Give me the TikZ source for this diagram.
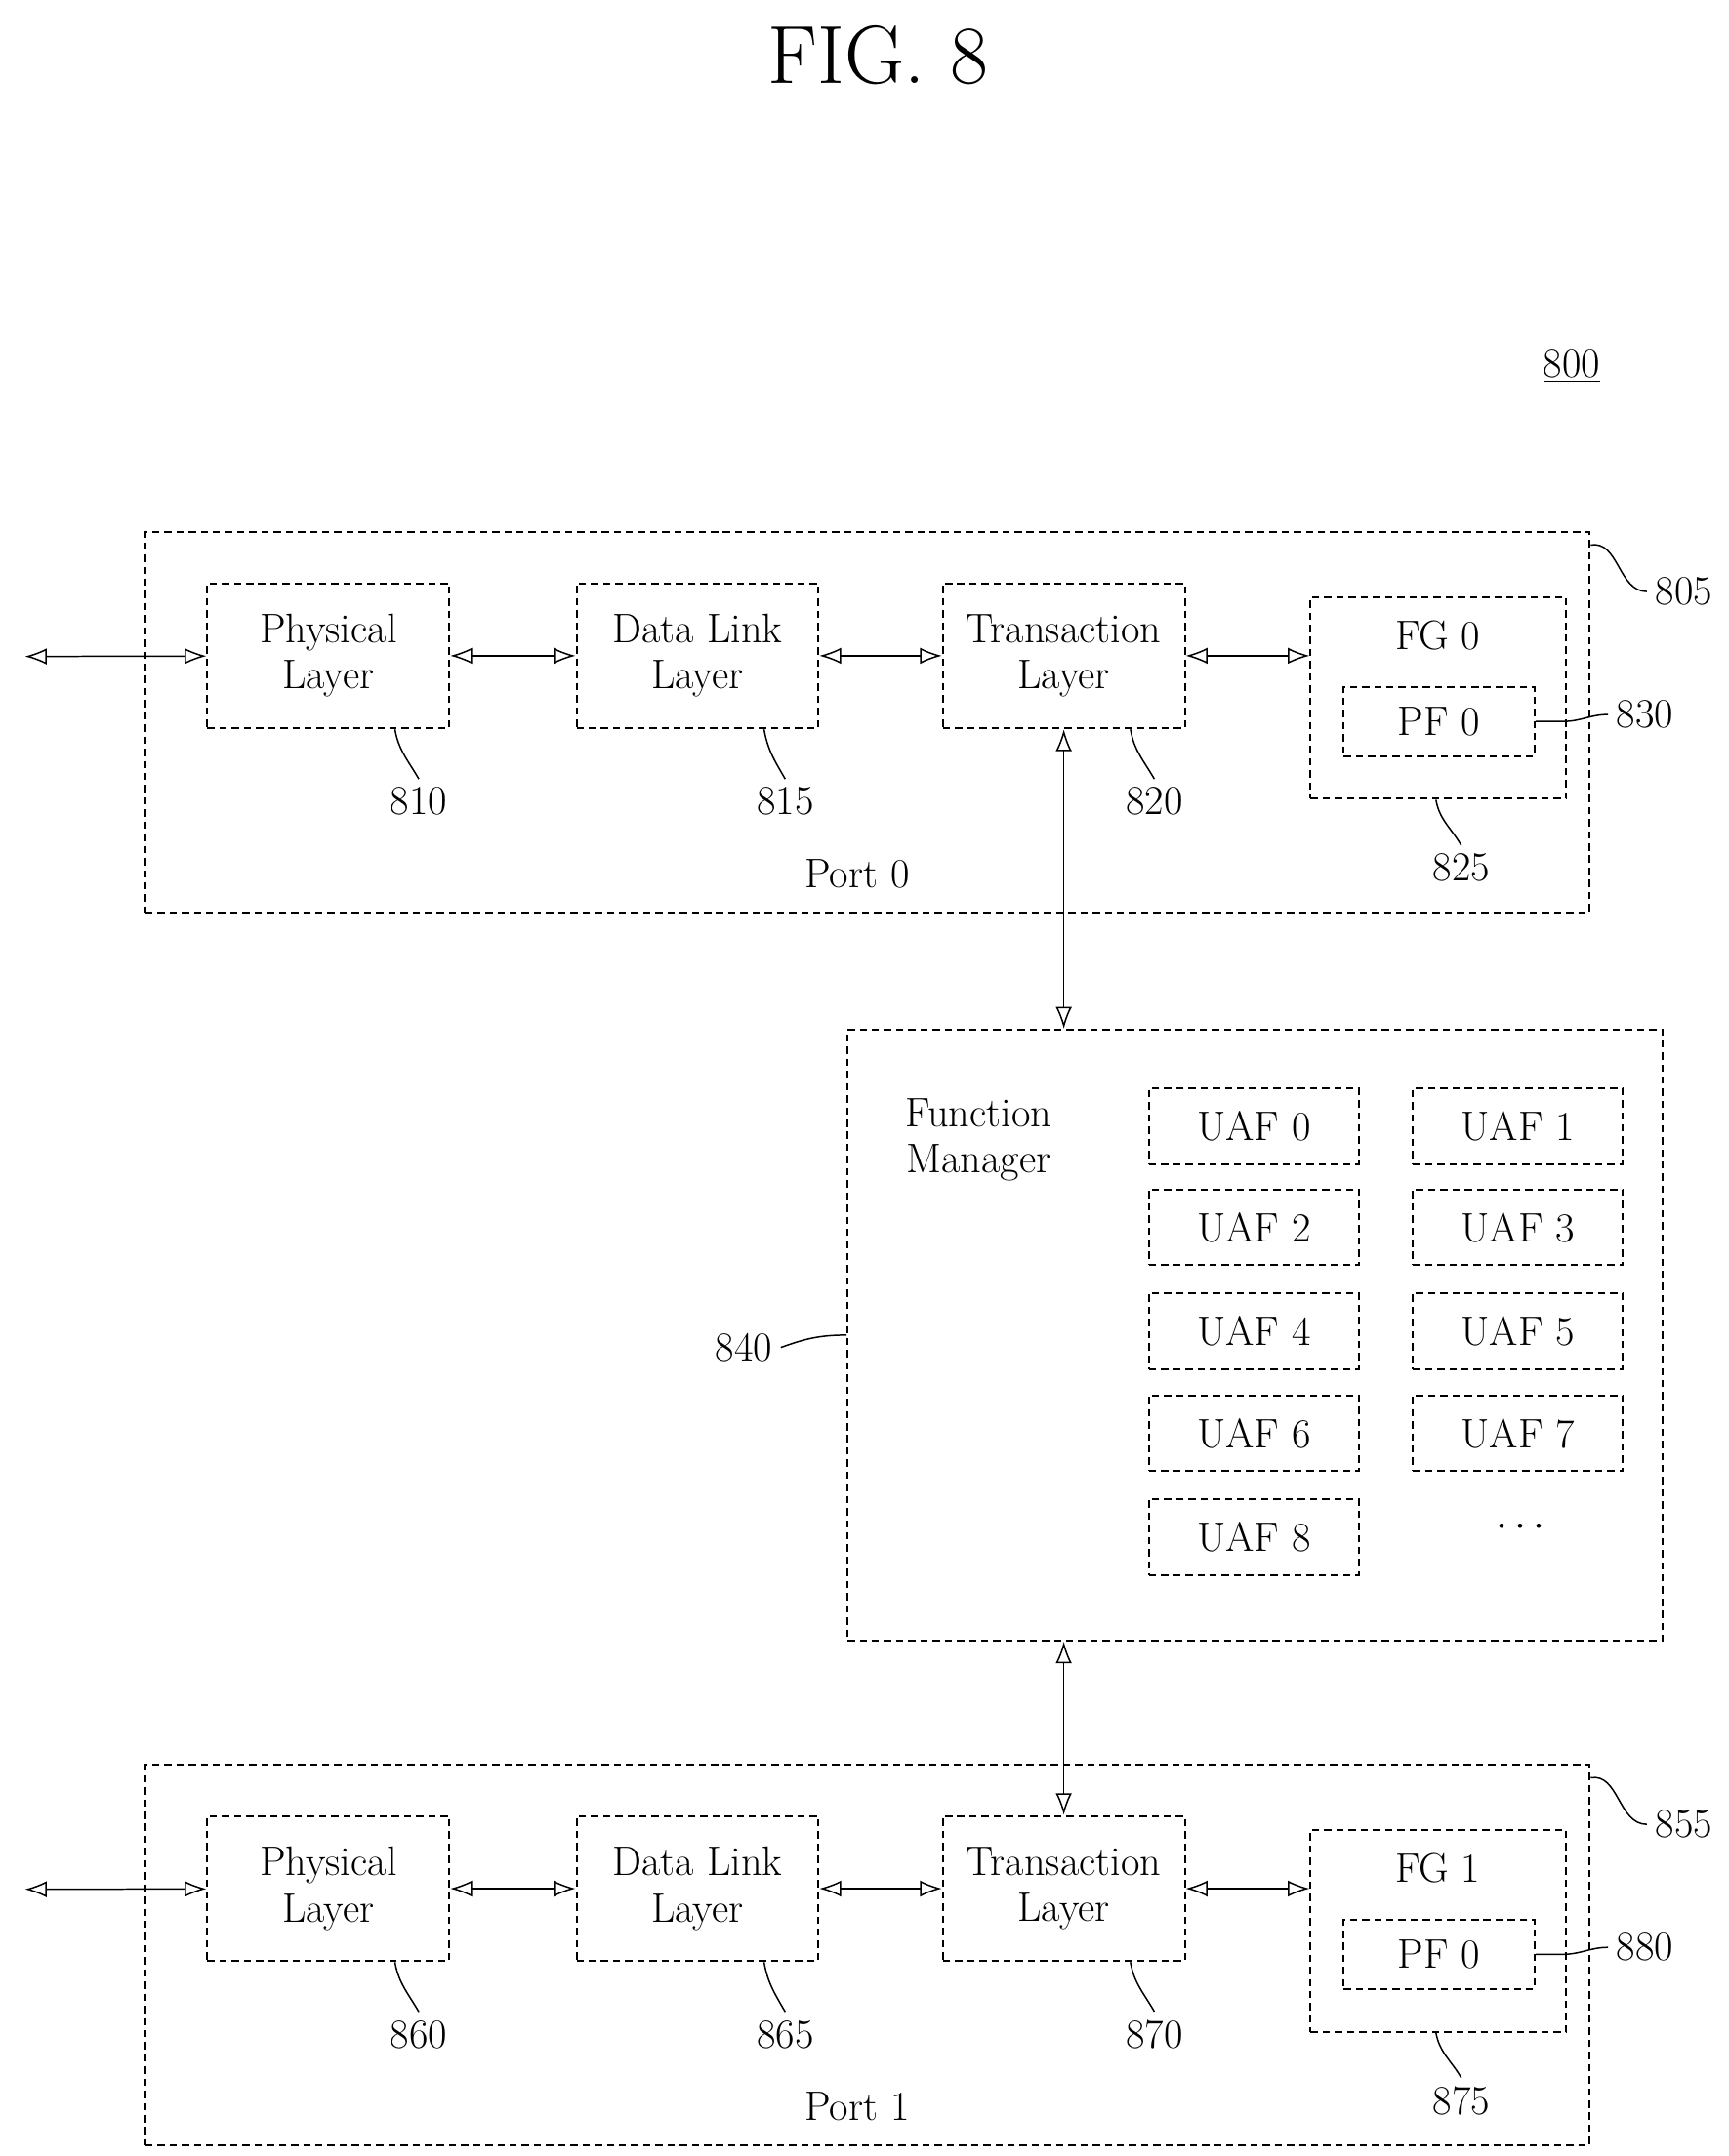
\documentclass[tikz,border=0pt]{standalone}
\usepackage{tikz}
\usetikzlibrary{positioning, arrows.meta}

\tikzset{
	blk/.style={draw, densely dashed, line width=0.8pt, minimum width=3.5cm, minimum height=2.1cm, align=center, font=\fontsize{17}{19}\selectfont},
	uaf/.style={draw, densely dashed, line width=0.8pt, minimum width=3.04cm, minimum height=1.1cm, font=\fontsize{17}{19}\selectfont},
	num/.style={font=\fontsize{17}{19}\selectfont},
	dbl/.style={{Latex[open,length=9pt]}-{Latex[open,length=9pt]}, line width=0.6pt},
	lead/.style={line width=0.6pt}
}

\begin{document}
\begin{tikzpicture}[x=0.02cm, y=-0.02cm]
		
		\useasboundingbox (0,0) rectangle (1250,1560);
		
		%Titolo
		\node (title) at (635,40) {\fontsize{34}{38}\selectfont FIG. 8};
		\node[num] (n800) at (1137,265) {\underline{800}};
		
		%Porte
		\foreach \i/\dy/\port/\fg/\a/\b/\c/\d/\e/\f in {0/0/805/830/810/815/820/825/Port 0/FG 0,
			1/892/855/880/860/865/870/875/Port 1/FG 1}{
			\begin{scope}[yshift=-\dy*0.02cm]
			\node[draw, densely dashed, line width=0.8pt, minimum width=20.9cm, minimum height=5.5cm] (port\i) at (627.5,522.5) {};
			\node[num] (portlbl\i) at (620,632) {\e};
			\node[blk] (phy\i) at (237.5,474.5) {Physical\\Layer};
			\node[blk] (dll\i) at (504.5,474.5) {Data Link\\Layer};
			\node[blk] (trn\i) at (769.5,474.5) {Transaction\\Layer};
			\node[draw, densely dashed, line width=0.8pt, minimum width=3.7cm, minimum height=2.92cm] (fg\i) at (1040.5,505) {};
			\node[num] (fglbl\i) at (1040,460) {\f};
			\node[blk, minimum width=2.76cm, minimum height=1cm] (pf\i) at (1041,522) {PF 0};
			\coordinate (ext\i) at (18,475);
			
			%Collegamenti
			\draw[dbl] (ext\i) -- (phy\i);
			\draw[dbl] (phy\i) -- (dll\i);
			\draw[dbl] (dll\i) -- (trn\i);
			\draw[dbl] (trn\i) -- (trn\i -| fg\i.west);
			
			%Numeri
			\node[num] (l\a) at (303,580) {\a};
			\node[num] (l\b) at (568,580) {\b};
			\node[num] (l\c) at (835,580) {\c};
			\node[num] (l\d) at (1057,628) {\d};
			\node[num] (l\fg) at (1190,517) {\fg};
			\node[num] (l\port) at (1218,428) {\port};
			\draw[lead] (phy\i.south east) ++(-40,0) to[out=-80,in=120] (l\a.north);
			\draw[lead] (dll\i.south east) ++(-40,0) to[out=-80,in=120] (l\b.north);
			\draw[lead] (trn\i.south east) ++(-40,0) to[out=-80,in=120] (l\c.north);
			\draw[lead] (fg\i.south east) ++(-95,0) to[out=-80,in=120] (l\d.north);
			\draw[lead] (pf\i.east) -- ++(20,0) to[out=0,in=180] (l\fg.west);
			\draw[lead] (port\i.north east) ++(0,10) to[out=10,in=180] (l\port.west);
			\end{scope}
		}
		
		%Function Manager
		\node[draw, densely dashed, line width=0.8pt, minimum width=11.8cm, minimum height=8.84cm] (fm) at (908,966) {};
		\node[num, align=center] (fmlbl) at (708,825) {Function\\Manager};
		\foreach \k/\x/\y in {0/907/815, 1/1098/815, 2/907/888, 3/1098/888, 4/907/963, 5/1098/963, 6/907/1037, 7/1098/1037, 8/907/1112}
			\node[uaf] (uaf\k) at (\x,\y) {UAF \k};
		\node[num] (dots) at (1100,1105) {$\cdots$};
		\node[num] (l840) at (538,975) {840};
		\draw[lead] (l840.east) to[out=20,in=180] (fm.west);
		
		\draw[dbl] (trn0.south) -- (trn0.south |- fm.north);
		\draw[dbl] (trn1.north |- fm.south) -- (trn1.north);
		
\end{tikzpicture}
\end{document}
